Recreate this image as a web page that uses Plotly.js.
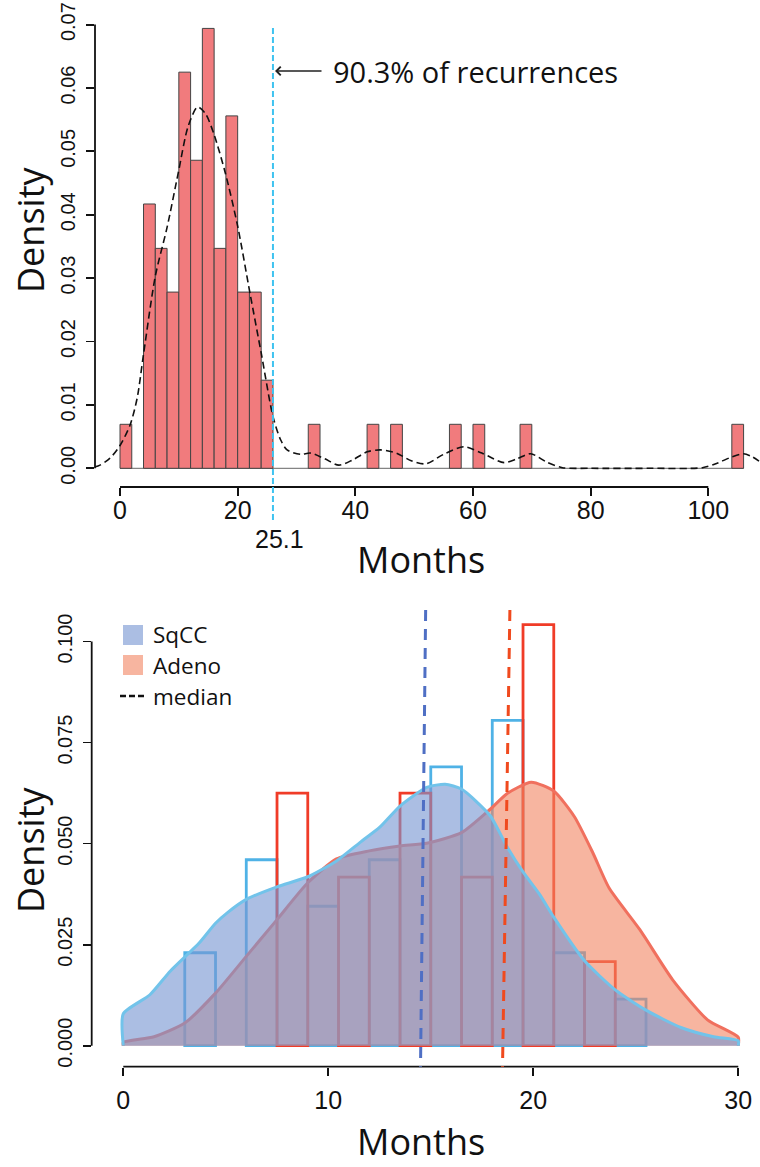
<!DOCTYPE html>
<html>
<head>
<meta charset="utf-8">
<script src="https://cdn.plot.ly/plotly-3.0.1.min.js"></script>
<style>html,body{margin:0;padding:0;background:#fff;}#chart{width:760px;height:1167px;}</style>
</head>
<body>
<div id="chart"></div>
<script>
// ---------- Top panel: all recurrences ----------
const topBinStart = [0, 4, 6, 8, 10, 12, 14, 16, 18, 20, 22, 24, 32, 42, 46, 56, 60, 68, 104];
const topDensity  = [0.00694, 0.0417, 0.0347, 0.0278, 0.0625, 0.0486, 0.0694, 0.0347, 0.0556, 0.0278, 0.0278, 0.0139,
                     0.00694, 0.00694, 0.00694, 0.00694, 0.00694, 0.00694, 0.00694];
const topBinWidth = 2;
const topKdeX = [-4.3, -3.4, -1.7, 0, 1.7, 2.9, 4, 6, 8, 9.9, 11.6, 13.2, 14.5, 15.9, 17.9, 20, 22.1, 24, 26, 27.3, 28.4,
                 30.7, 32.4, 34.8, 37.2, 39.5, 42, 44.3, 47, 49.5, 52, 55, 58.5, 61.5, 65.3, 67.5, 69.8, 72.5, 75.2, 80,
                 90, 99, 101.5, 104, 106, 107.5, 108.8];
const topKdeY = [0.0002, 0.0005, 0.0016, 0.0036, 0.0068, 0.011, 0.018, 0.0303, 0.038, 0.0466, 0.054, 0.057, 0.056, 0.0529,
                 0.0466, 0.0382, 0.0276, 0.0182, 0.0082, 0.0045, 0.0029, 0.0022, 0.0024, 0.0015, 0.0005, 0.0013, 0.0026,
                 0.0029, 0.0024, 0.0012, 0.0007, 0.0022, 0.0034, 0.0024, 0.0009, 0.0015, 0.0023, 0.0010, 0.0001, 0,
                 0, 0.0001, 0.0008, 0.0018, 0.0023, 0.0018, 0.0010];
const topXTicks = [0, 20, 40, 60, 80, 100];
const topYTicks = [0, 0.01, 0.02, 0.03, 0.04, 0.05, 0.06, 0.07];
const cutoffLineX = 26;          // where the dashed cut-off line is drawn
const cutoffLabel = "25.1";
const cutoffNote = "90.3% of recurrences";

// ---------- Bottom panel: SqCC vs Adeno ----------
const binStart = [0, 3, 6, 9, 12, 15, 18, 21, 24, 27];
const binWidth = 3;
const sqccDensity  = [0, 0.023, 0.046, 0.0345, 0.046, 0.069, 0.0805, 0.023, 0.0115, 0];
const adenoDensity = [0, 0, 0.0625, 0.0417, 0.0625, 0.0417, 0.1042, 0.0208, 0, 0];
const sqccKdeX = [0, 1.3, 2.3, 3.7, 4.5, 5.1, 6.0, 7.5, 9.0, 10.4, 11.6, 12.5, 13.5, 14.8, 15.7, 16.5, 17.9, 18.7, 19.5,
                  20.3, 21, 22.5, 24, 25.5, 27.2, 28.8, 30];
const sqccKdeY = [0.0079, 0.0126, 0.0185, 0.0254, 0.0303, 0.033, 0.0362, 0.0393, 0.0418, 0.0457, 0.0505, 0.054, 0.0593,
                  0.0639, 0.0647, 0.0635, 0.0569, 0.0494, 0.043, 0.0375, 0.0318, 0.021, 0.0138, 0.0088, 0.0045, 0.0022, 0.0012];
const adenoKdeX = [0, 1.5, 3.0, 4.5, 6.0, 7.5, 9.0, 10.4, 12, 13.5, 14.8, 16.5, 17.9, 18.7, 19.9, 21, 22, 22.9, 23.7,
                   25.2, 26.8, 28.5, 30];
const adenoKdeY = [0.0008, 0.0022, 0.0056, 0.013, 0.0221, 0.0312, 0.0403, 0.0462, 0.0482, 0.0494, 0.0501, 0.0527, 0.0585,
                   0.0623, 0.0652, 0.063, 0.0567, 0.0478, 0.039, 0.0287, 0.0163, 0.0064, 0.0021];
const sqccMedian = [14.75, 14.5];   // drawn top / bottom positions
const adenoMedian = [18.86, 18.5];
const botXTicks = [0, 10, 20, 30];
const botYTicks = [0, 0.025, 0.05, 0.075, 0.1];
const legendLabels = ["SqCC", "Adeno", "median"];

// ---------- styles ----------
const xTickFont = {family: "Liberation Sans, Arial, sans-serif", size: 25, color: "#111"};
const yTickFont = {family: "Liberation Sans, Arial, sans-serif", size: 20, color: "#111"};
const titleFont = {family: "Open Sans, sans-serif", size: 36, color: "#111"};
const blueFill = "rgba(120,150,210,0.62)", blueLine = "#72c3ea", blueBar = "#4fb2e6";
const redFill = "rgba(242,132,97,0.6)", redLine = "#f0705e", redBar = "#f03c28";

function nonZero(vals) { return vals.map((v, i) => [binStart[i], v]).filter(p => p[1] > 0); }
const sq = nonZero(sqccDensity), ad = nonZero(adenoDensity);

const traces = [
  { type: "bar", x: topBinStart, y: topDensity, width: topBinWidth, offset: 0, xaxis: "x", yaxis: "y",
    marker: {color: "#f17b7d", line: {color: "#444", width: 1}}, hoverinfo: "skip" },
  { type: "scatter", mode: "lines", x: topKdeX, y: topKdeY, xaxis: "x", yaxis: "y",
    line: {color: "#111", width: 1.6, dash: "7px,4px", shape: "spline", smoothing: 0.8}, hoverinfo: "skip" },
  { type: "bar", x: sq.map(p => p[0]), y: sq.map(p => p[1]), width: binWidth / 2, offset: 0, xaxis: "x2", yaxis: "y2",
    marker: {color: "rgba(0,0,0,0)", line: {color: blueBar, width: 2.8}}, hoverinfo: "skip" },
  { type: "bar", x: ad.map(p => p[0]), y: ad.map(p => p[1]), width: binWidth / 2, offset: binWidth / 2, xaxis: "x2", yaxis: "y2",
    marker: {color: "rgba(0,0,0,0)", line: {color: redBar, width: 2.8}}, hoverinfo: "skip" },
  { type: "scatter", mode: "lines", xaxis: "x2", yaxis: "y2", fill: "toself", fillcolor: redFill,
    x: [adenoKdeX[0]].concat(adenoKdeX, [adenoKdeX[adenoKdeX.length - 1]]),
    y: [0].concat(adenoKdeY, [0]),
    line: {color: redLine, width: 3, shape: "spline", smoothing: 0.6}, hoverinfo: "skip" },
  { type: "scatter", mode: "lines", xaxis: "x2", yaxis: "y2", fill: "toself", fillcolor: blueFill,
    x: [sqccKdeX[0]].concat(sqccKdeX, [sqccKdeX[sqccKdeX.length - 1]]),
    y: [0].concat(sqccKdeY, [0]),
    line: {color: blueLine, width: 3, shape: "spline", smoothing: 0.6}, hoverinfo: "skip" }
];

const H = 1167, W = 760;
const py = v => 1 - v / H, px = v => v / W;

function axisX(domain, range, ticks, anchor, standoff) {
  return {domain, range, anchor, tickvals: ticks, ticktext: ticks.map(String), ticks: "outside", ticklen: 8,
          tickwidth: 1.8, tickcolor: "#111", showline: false, showgrid: false, zeroline: false,
          tickfont: xTickFont, fixedrange: true, ticklabelstandoff: standoff};
}
function axisY(domain, range, ticks, anchor, fmt) {
  return {domain, range, anchor, tickvals: ticks, tickformat: fmt, tickangle: -90, ticks: "outside", ticklen: 8,
          tickwidth: 1.8, tickcolor: "#111", showline: false, showgrid: false, zeroline: false,
          tickfont: yTickFont, fixedrange: true, ticklabelstandoff: 3};
}

const shapes = [
  {type: "line", xref: "x", yref: "y domain", x0: topXTicks[0], x1: topXTicks[topXTicks.length - 1], y0: 0, y1: 0,
   line: {color: "#111", width: 1.8}},
  {type: "line", xref: "x domain", yref: "y", x0: 0, x1: 0, y0: topYTicks[0], y1: topYTicks[topYTicks.length - 1],
   line: {color: "#111", width: 1.8}},
  {type: "line", xref: "x", yref: "y", layer: "below", x0: Math.min(...topBinStart),
   x1: Math.max(...topBinStart) + topBinWidth, y0: 0, y1: 0, line: {color: "#666", width: 1}},
  {type: "line", xref: "x", yref: "paper", x0: cutoffLineX, x1: cutoffLineX, y0: py(520), y1: py(26),
   line: {color: "#3fc3f0", width: 2, dash: "6px,3px"}},
  {type: "line", xref: "x2", yref: "y2 domain", x0: botXTicks[0], x1: botXTicks[botXTicks.length - 1], y0: 0, y1: 0,
   line: {color: "#111", width: 1.8}},
  {type: "line", xref: "x2 domain", yref: "y2", x0: 0, x1: 0, y0: botYTicks[0], y1: botYTicks[botYTicks.length - 1],
   line: {color: "#111", width: 1.8}},
  {type: "line", xref: "x2", yref: "y2 domain", x0: sqccMedian[0], x1: sqccMedian[1], y0: 1, y1: 0,
   line: {color: "#4f6fc4", width: 3, dash: "11px,8px"}},
  {type: "line", xref: "x2", yref: "y2 domain", x0: adenoMedian[0], x1: adenoMedian[1], y0: 1, y1: 0,
   line: {color: "#f04a1e", width: 3, dash: "11px,8px"}},
  {type: "rect", xref: "paper", yref: "paper", x0: px(123), x1: px(143), y0: py(645), y1: py(625),
   fillcolor: blueFill, line: {width: 0}},
  {type: "rect", xref: "paper", yref: "paper", x0: px(123), x1: px(143), y0: py(675), y1: py(655),
   fillcolor: redFill, line: {width: 0}},
  {type: "line", xref: "paper", yref: "paper", x0: px(120), x1: px(147), y0: py(696), y1: py(696),
   line: {color: "#111", width: 2.5, dash: "6px,3px"}}
];

const annFont = {family: "Open Sans, sans-serif", size: 29, color: "#111"};
const legFont = {family: "Open Sans, sans-serif", size: 22.5, color: "#111"};
const annotations = [
  {xref: "paper", yref: "paper", x: px(30), y: py(230), text: "Density", textangle: -90, showarrow: false,
   font: titleFont, xanchor: "center", yanchor: "middle"},
  {xref: "paper", yref: "paper", x: px(421), y: py(559), text: "Months", showarrow: false,
   font: titleFont, xanchor: "center", yanchor: "middle"},
  {xref: "paper", yref: "paper", x: px(30), y: py(850), text: "Density", textangle: -90, showarrow: false,
   font: titleFont, xanchor: "center", yanchor: "middle"},
  {xref: "paper", yref: "paper", x: px(421), y: py(1141), text: "Months", showarrow: false,
   font: titleFont, xanchor: "center", yanchor: "middle"},
  {xref: "paper", yref: "paper", x: px(279), y: py(539), text: cutoffLabel, showarrow: false,
   font: xTickFont, xanchor: "center", yanchor: "middle"},
  {xref: "paper", yref: "paper", x: px(331), y: py(72), text: cutoffNote, showarrow: false,
   font: annFont, xanchor: "left", yanchor: "middle"},
  {xref: "paper", yref: "paper", x: px(275), y: py(71), ax: 48, ay: 0, text: "", showarrow: true,
   arrowhead: 4, arrowsize: 1.3, arrowwidth: 1.3, arrowcolor: "#222"},
  {xref: "paper", yref: "paper", x: px(151), y: py(634), text: legendLabels[0], showarrow: false,
   font: legFont, xanchor: "left", yanchor: "middle"},
  {xref: "paper", yref: "paper", x: px(151), y: py(665), text: legendLabels[1], showarrow: false,
   font: legFont, xanchor: "left", yanchor: "middle"},
  {xref: "paper", yref: "paper", x: px(151), y: py(696), text: legendLabels[2], showarrow: false,
   font: legFont, xanchor: "left", yanchor: "middle"}
];

const layout = {
  width: W, height: H, margin: {l: 0, r: 0, t: 0, b: 0}, paper_bgcolor: "#fff", plot_bgcolor: "rgba(0,0,0,0)",
  showlegend: false, barmode: "overlay",
  xaxis: axisX([px(95), 1], [-4.25, 108.79], topXTicks, "y", -7),
  yaxis: axisY([py(487), py(11.3)], [-0.00295, 0.0721], topYTicks, "x", ".2f"),
  xaxis2: axisX([px(91.7), 1], [-1.54, 31.06], botXTicks, "y2", 3),
  yaxis2: axisY([py(1066.7), py(610)], [-0.0052, 0.1078], botYTicks, "x2", ".3f"),
  shapes, annotations
};

Plotly.newPlot("chart", traces, layout, {staticPlot: true, displayModeBar: false});
</script>
</body>
</html>
